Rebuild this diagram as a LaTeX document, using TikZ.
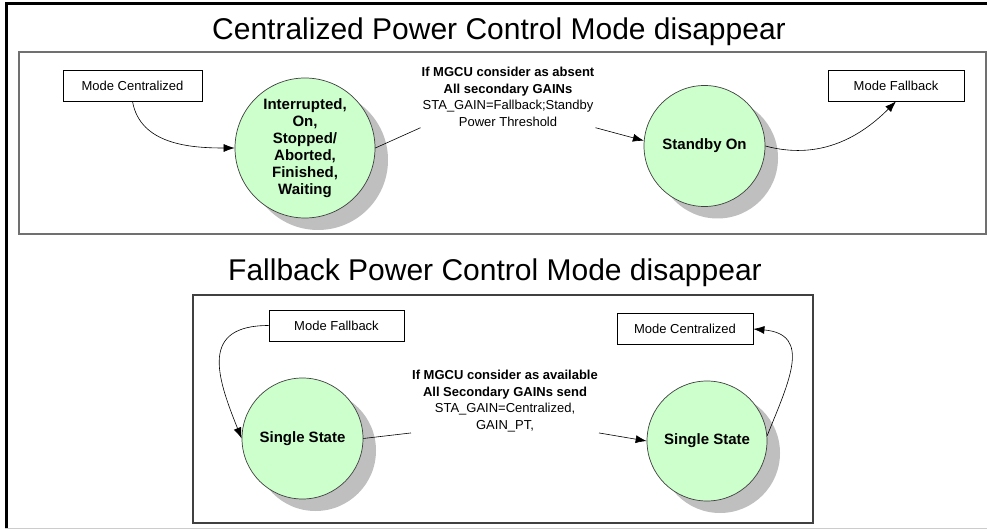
\documentclass[tikz,border=0pt]{standalone}
\usepackage{fontspec}
\setmainfont{Liberation Sans}
\usetikzlibrary{arrows.meta,shadows}
\definecolor{stategreen}{HTML}{CCFFCC}
\definecolor{framegray}{HTML}{707070}

\begin{document}
\begin{tikzpicture}[x=1pt,y=1pt,
    state/.style={circle, draw=black!75, line width=0.7pt, fill=stategreen, inner sep=0pt, align=center,
      font=\fontsize{15}{17}\selectfont\bfseries,
      general shadow={fill=black!25, shadow xshift=13pt, shadow yshift=-12pt}},
    modebox/.style={draw, line width=0.8pt, minimum height=31pt, inner sep=0pt, font=\fontsize{13}{15}\selectfont},
    cond/.style={align=center, inner sep=1pt, font=\fontsize{13}{16.5}\selectfont},
    heading/.style={anchor=base, font=\fontsize{30}{34}\selectfont},
    arr/.style={-{Latex[length=11pt,width=8pt]}, line width=0.6pt}]
  \useasboundingbox (0,0) rectangle (987,-529);
  \draw[line width=3pt] (6.5,-529) -- (6.5,-4) -- (987,-4);
  \draw[black!20] (5,-528) -- (987,-528);

  \node[heading] (title1) at (499,-40) {Centralized Power Control Mode disappear};
  \draw[framegray, line width=1.8pt] (19,-52) rectangle (986,-234);
  \node[modebox, minimum width=139pt] (mcent1) at (132.5,-85.5) {Mode Centralized};
  \node[state, minimum size=140pt] (busy) at (305,-148) {Interrupted,\\On,\\Stopped/\\Aborted,\\Finished,\\Waiting};
  \node[cond] (absent) at (508,-97) {\textbf{If MGCU consider as absent}\\\textbf{All secondary GAINs}\\STA\_GAIN=Fallback;Standby\\Power Threshold};
  \node[state, minimum size=121pt] (standby) at (704.5,-146) {Standby On};
  \node[modebox, minimum width=136pt] (mfall1) at (896,-85.5) {Mode Fallback};
  \draw[arr] (mcent1.south) to[out=-80,in=180] (busy.west);
  \draw[line width=0.6pt] (busy.east) -- (absent.south west);
  \draw[arr] (absent.south east) -- (standby.175);
  \draw[arr] (standby.east) to[out=-15,in=-135] (mfall1.south);

  \node[heading] (title2) at (495,-280) {Fallback Power Control Mode disappear};
  \draw[black!75, line width=1.2pt] (193,-295) rectangle (813,-523);
  \node[modebox, minimum width=135pt] (mfall2) at (336.5,-325.5) {Mode Fallback};
  \node[state, minimum size=121pt] (single1) at (302.5,-438.5) {Single State};
  \node[cond] (avail) at (505,-401) {\textbf{If MGCU consider as available}\\\textbf{All Secondary GAINs send}\\STA\_GAIN=Centralized,\\GAIN\_PT,};
  \node[state, minimum size=120pt] (single2) at (707,-441) {Single State};
  \node[modebox, minimum width=136pt] (mcent2) at (685,-329) {Mode Centralized};
  \draw[arr] (mfall2.west) to[out=180,in=112,looseness=1.5] (single1.west);
  \draw[line width=0.6pt] (single1.east) -- (avail.south west);
  \draw[arr] (avail.south east) -- (single2.west);
  \draw[arr] (single2.5) to[out=68,in=-5,looseness=1.4] (mcent2.east);
\end{tikzpicture}
\end{document}
